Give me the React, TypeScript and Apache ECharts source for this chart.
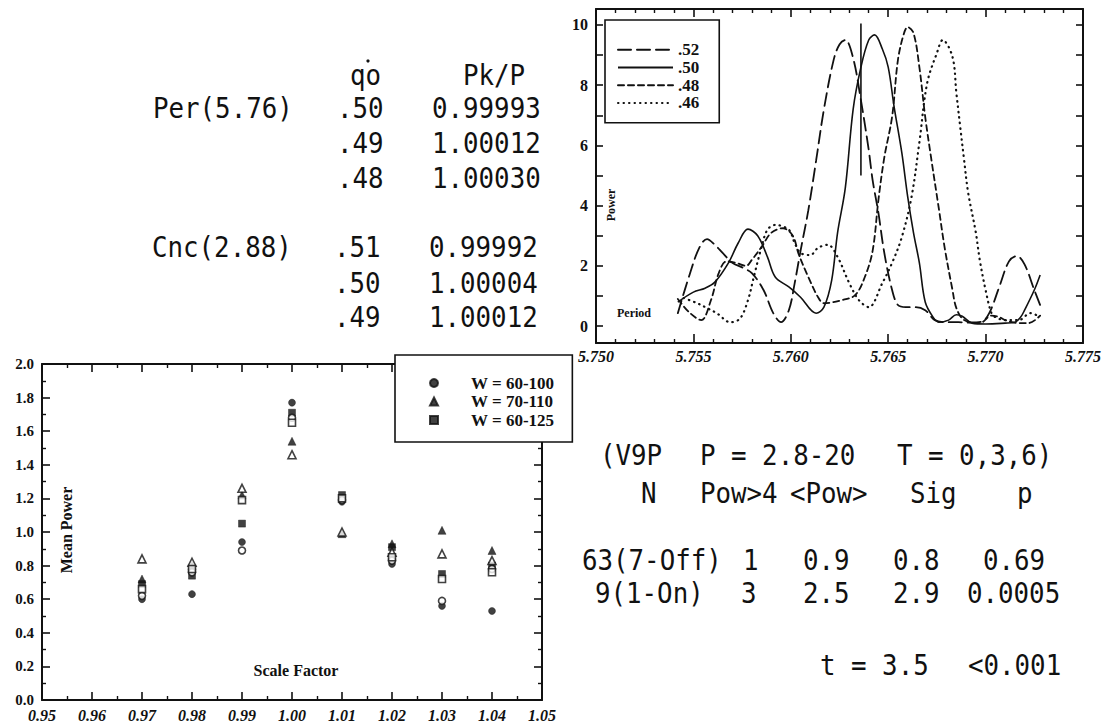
import React, { useEffect, useRef } from "react";
import * as echarts from "echarts";

// ---------- Data: periodogram (top right) ----------
const curve52: [number, number][] = [
  [5.7542, 0.43], [5.7548, 1.7], [5.7553, 2.6], [5.7557, 2.89], [5.7561, 2.7], [5.7565, 2.43],
  [5.757, 2.1], [5.7575, 1.95], [5.758, 1.76], [5.7586, 1.2], [5.7591, 0.43], [5.7595, 0.13],
  [5.7599, 0.53], [5.7602, 1.43], [5.7605, 2.5], [5.7609, 3.85], [5.7613, 5.5], [5.7617, 7.2],
  [5.7622, 8.84], [5.7625, 9.35], [5.7628, 9.5], [5.7632, 8.9], [5.7636, 7.5], [5.764, 5.85],
  [5.7642, 4.85], [5.7645, 3.75], [5.7648, 2.43], [5.7652, 1.2], [5.7655, 0.7], [5.7659, 0.63],
  [5.7664, 0.63], [5.7669, 0.53], [5.7674, 0.2], [5.768, 0.13], [5.7686, 0.13], [5.7692, 0.12],
  [5.7698, 0.15], [5.7702, 0.45], [5.7707, 1.3], [5.7712, 2.15], [5.7716, 2.33], [5.772, 2.05],
  [5.7725, 1.2], [5.7728, 0.7],
];
const curve50: [number, number][] = [
  [5.7542, 0.8], [5.755, 1.13], [5.7556, 1.26], [5.7561, 1.46], [5.7568, 2.1], [5.7573, 2.76],
  [5.7578, 3.22], [5.7583, 3.0], [5.7588, 2.3], [5.7592, 1.63], [5.7599, 1.3], [5.7605, 0.96],
  [5.7613, 0.43], [5.7617, 0.63], [5.7621, 1.53], [5.7624, 3.1], [5.7628, 4.6], [5.7632, 7.2],
  [5.7636, 8.6], [5.764, 9.5], [5.7643, 9.67], [5.7647, 9.2], [5.765, 8.6], [5.7653, 7.3],
  [5.7657, 5.75], [5.766, 4.3], [5.7663, 3.1], [5.7666, 2.1], [5.7669, 0.8], [5.7673, 0.3],
  [5.7676, 0.13], [5.7681, 0.2], [5.7685, 0.38], [5.7688, 0.33], [5.7693, 0.1], [5.77, 0.07],
  [5.771, 0.1], [5.7715, 0.13], [5.7718, 0.3], [5.772, 0.53], [5.7725, 1.2], [5.7728, 1.7],
];
const curve48: [number, number][] = [
  [5.7542, 0.9], [5.7548, 0.45], [5.7554, 0.2], [5.7559, 0.86], [5.7563, 1.76], [5.7567, 2.15],
  [5.7572, 2.1], [5.7577, 2.0], [5.758, 2.2], [5.7585, 2.63], [5.759, 3.1], [5.7596, 3.25],
  [5.7601, 3.0], [5.7604, 2.4], [5.7609, 1.63], [5.7614, 0.96], [5.7617, 0.76], [5.7626, 0.86],
  [5.7633, 1.03], [5.7638, 1.63], [5.7642, 2.5], [5.7645, 4.2], [5.7648, 5.6], [5.7652, 6.95],
  [5.7655, 8.84], [5.7658, 9.7], [5.766, 9.93], [5.7663, 9.73], [5.7666, 8.6], [5.7669, 6.95],
  [5.7672, 5.6], [5.7676, 3.9], [5.7679, 2.6], [5.7683, 1.2], [5.7685, 0.6], [5.7689, 0.2],
  [5.7697, 0.1], [5.7703, 0.35], [5.7707, 0.3], [5.771, 0.2], [5.7717, 0.1], [5.7722, 0.1],
  [5.7728, 0.35],
];
const curve46: [number, number][] = [
  [5.7545, 0.93], [5.7552, 0.76], [5.7557, 0.6], [5.7562, 0.43], [5.7569, 0.13], [5.7574, 0.26],
  [5.7578, 0.86], [5.7581, 1.63], [5.7585, 2.63], [5.7588, 3.2], [5.7592, 3.36], [5.7599, 3.2],
  [5.7602, 2.76], [5.7605, 2.43], [5.761, 2.36], [5.7614, 2.6], [5.7619, 2.7], [5.7624, 2.3],
  [5.763, 1.43], [5.7635, 0.86], [5.764, 0.63], [5.7647, 1.43], [5.7652, 2.1], [5.7657, 2.96],
  [5.7662, 4.3], [5.7666, 6.1], [5.767, 8.07], [5.7675, 9.07], [5.7678, 9.5], [5.7683, 8.94],
  [5.7685, 7.74], [5.7687, 6.6], [5.7689, 5.5], [5.7691, 4.45], [5.7695, 3.1], [5.7697, 2.2],
  [5.77, 1.2], [5.7703, 0.43], [5.7705, 0.3], [5.771, 0.2], [5.7717, 0.2], [5.7723, 0.43],
  [5.7728, 0.3],
];
const periodMarker: [number, number][] = [[5.7636, 5.0], [5.7636, 10.05]];
const qoLabels = [".52", ".50", ".48", ".46"];
const powerTicks = [0, 1, 2, 3, 4, 5, 6, 7, 8, 9, 10];
const powerLabels = [0, 2, 4, 6, 8, 10];

// ---------- Data: mean power vs scale factor (bottom left) ----------
const scaleFactors = [0.97, 0.98, 0.99, 1.0, 1.01, 1.02, 1.03, 1.04];
const w60_100 = [0.6, 0.63, 0.94, 1.77, 1.18, 0.81, 0.56, 0.53];
const w60_100open = [0.62, 0.76, 0.89, 1.68, 1.19, 0.83, 0.59, 0.78];
const w70_110 = [0.72, 0.8, 1.22, 1.54, 0.99, 0.93, 1.01, 0.89];
const w70_110open = [0.84, 0.82, 1.26, 1.46, 1.0, 0.88, 0.87, 0.83];
const w60_125 = [0.69, 0.74, 1.05, 1.71, 1.22, 0.91, 0.75, 0.8];
const w60_125open = [0.66, 0.78, 1.19, 1.65, 1.2, 0.85, 0.72, 0.76];
const wLabels = ["W = 60-100", "W = 70-110", "W = 60-125"];

// ---------- Text tables ----------
const pkHeader = ["qo", "Pk/P"];
const perRows = [
  ["Per(5.76)", ".50", "0.99993"],
  ["", ".49", "1.00012"],
  ["", ".48", "1.00030"],
];
const cncRows = [
  ["Cnc(2.88)", ".51", "0.99992"],
  ["", ".50", "1.00004"],
  ["", ".49", "1.00012"],
];
const v9pTitle = ["(V9P", "P = 2.8-20", "T = 0,3,6)"];
const v9pHeader = ["N", "Pow>4", "<Pow>", "Sig", "p"];
const v9pRows = [
  ["63(7-Off)", "1", "0.9", "0.8", "0.69"],
  ["9(1-On)", "3", "2.5", "2.9", "0.0005"],
];
const v9pFooter = ["t = 3.5", "<0.001"];

const SERIF = "'Liberation Serif', 'DejaVu Serif', serif";
const MONO = "'DejaVu Sans Mono', 'Liberation Mono', monospace";
const INK = "#111";

function mono(text: string, x: number, y: number) {
  return {
    type: "text",
    x,
    y,
    scaleX: 0.89,
    style: {
      text,
      fill: INK,
      fontFamily: MONO,
      fontSize: 29,
      textAlign: "left",
      textVerticalAlign: "middle",
    },
  };
}

function boxAxis(extra: any) {
  return {
    type: "value",
    splitLine: { show: false },
    minorSplitLine: { show: false },
    axisLine: { show: true, onZero: false, lineStyle: { color: INK, width: 2 } },
    axisTick: { show: true, inside: true, length: 8, lineStyle: { color: INK, width: 1.6 } },
    ...extra,
  };
}

export default function App() {
  const ref = useRef<HTMLDivElement>(null);
  useEffect(() => {
    const chart = echarts.init(ref.current!, null, { renderer: "svg" });

    const xLabelStyle = {
      color: INK,
      fontFamily: SERIF,
      fontWeight: "bold",
      fontStyle: "italic",
      fontSize: 16,
      lineHeight: 16,
    };
    const yLabelStyle = { color: INK, fontFamily: SERIF, fontWeight: "bold", fontSize: 15, lineHeight: 15 };
    const minor = (n: number) => ({
      show: true,
      splitNumber: n,
      length: 4,
      lineStyle: { color: INK, width: 1.4 },
    });

    const graphics: any[] = [];
    // top-left table
    graphics.push(mono(pkHeader[0], 350, 75));
    graphics.push({ type: "circle", shape: { cx: 368, cy: 61, r: 1.6 }, style: { fill: INK } });
    graphics.push(mono(pkHeader[1], 463, 75));
    const perY = [108, 143, 178];
    perRows.forEach((r, i) => {
      if (r[0]) graphics.push(mono(r[0], 153, perY[i]));
      graphics.push(mono(r[1], 337, perY[i]));
      graphics.push(mono(r[2], 432, perY[i]));
    });
    const cncY = [247, 283, 317];
    cncRows.forEach((r, i) => {
      if (r[0]) graphics.push(mono(r[0], 152, cncY[i]));
      graphics.push(mono(r[1], 334, cncY[i]));
      graphics.push(mono(r[2], 429, cncY[i]));
    });
    // right table
    const titleX = [600, 700, 897];
    v9pTitle.forEach((t, i) => graphics.push(mono(t, titleX[i], 455)));
    const headX = [641, 700, 790, 910, 1017];
    v9pHeader.forEach((t, i) => graphics.push(mono(t, headX[i], 493)));
    const rowX = [
      [582, 743, 803, 893, 983],
      [595, 741, 803, 893, 967],
    ];
    const rowY = [560, 593];
    v9pRows.forEach((r, j) => r.forEach((t, i) => graphics.push(mono(t, rowX[j][i], rowY[j]))));
    graphics.push(mono(v9pFooter[0], 820, 665));
    graphics.push(mono(v9pFooter[1], 968, 665));
    // axis titles
    graphics.push({
      type: "text",
      x: 66,
      y: 530,
      rotation: Math.PI / 2,
      style: {
        text: "Mean Power",
        fill: INK,
        fontFamily: SERIF,
        fontWeight: "bold",
        fontSize: 16,
        textAlign: "center",
        textVerticalAlign: "middle",
      },
    });
    graphics.push({
      type: "text",
      x: 296,
      y: 670,
      style: {
        text: "Scale Factor",
        fill: INK,
        fontFamily: SERIF,
        fontWeight: "bold",
        fontSize: 16,
        textAlign: "center",
        textVerticalAlign: "middle",
      },
    });
    graphics.push({
      type: "text",
      x: 611,
      y: 205,
      rotation: Math.PI / 2,
      style: {
        text: "Power",
        fill: INK,
        fontFamily: SERIF,
        fontWeight: "bold",
        fontSize: 12,
        textAlign: "center",
        textVerticalAlign: "middle",
      },
    });
    graphics.push({
      type: "text",
      x: 617,
      y: 313,
      style: {
        text: "Period",
        fill: INK,
        fontFamily: SERIF,
        fontWeight: "bold",
        fontSize: 12,
        textAlign: "left",
        textVerticalAlign: "middle",
      },
    });

    const lineBase = (name: string, data: [number, number][], type: any, width: number) => ({
      name,
      type: "line",
      xAxisIndex: 0,
      yAxisIndex: 0,
      data,
      symbol: "none",
      smooth: 0.35,
      itemStyle: { color: INK },
      lineStyle: { color: INK, width, type, cap: type === "solid" ? "butt" : "round" },
      z: 3,
    });

    const scatter = (name: string, data: number[], symbol: string, open: boolean) => ({
      name,
      type: "scatter",
      xAxisIndex: 2,
      yAxisIndex: 2,
      symbol,
      symbolSize: symbol === "triangle" ? 8 : 7,
      data: scaleFactors.map((x, i) => [x, data[i]]),
      itemStyle: open
        ? { color: "#fff", borderColor: INK, borderWidth: 1.6 }
        : { color: INK, borderColor: INK, borderWidth: 0.5 },
      z: open ? 4 : 3,
    });

    const option: any = {
      animation: false,
      backgroundColor: "#fff",
      grid: [
        { left: 596, right: 28, top: 9, bottom: 381 },
        { left: 42, right: 569, top: 364, bottom: 24 },
      ],
      xAxis: [
        boxAxis({
          gridIndex: 0,
          position: "bottom",
          min: 5.75,
          max: 5.775,
          interval: 0.005,
          axisTick: { show: true, inside: true, length: 9, lineStyle: { color: INK, width: 1.6 } },
          minorTick: minor(5),
          axisLabel: { ...xLabelStyle, margin: 5, formatter: (v: number) => v.toFixed(3) },
        }),
        boxAxis({
          gridIndex: 0,
          position: "top",
          min: 5.75,
          max: 5.775,
          interval: 0.005,
          minorTick: minor(5),
          axisLabel: { show: false },
        }),
        boxAxis({
          gridIndex: 1,
          position: "bottom",
          min: 0.95,
          max: 1.05,
          interval: 0.01,
          minorTick: minor(2),
          axisLabel: { ...xLabelStyle, margin: 7, formatter: (v: number) => v.toFixed(2) },
        }),
        boxAxis({
          gridIndex: 1,
          position: "top",
          min: 0.95,
          max: 1.05,
          interval: 0.01,
          minorTick: minor(2),
          axisLabel: { show: false },
        }),
      ],
      yAxis: [
        boxAxis({
          gridIndex: 0,
          position: "left",
          min: -0.56,
          max: 10.53,
          axisTick: {
            show: true,
            inside: true,
            length: 7,
            customValues: powerTicks,
            lineStyle: { color: INK, width: 1.6 },
          },
          axisLabel: { ...yLabelStyle, fontSize: 16, margin: 8, customValues: powerLabels },
        }),
        boxAxis({
          gridIndex: 0,
          position: "right",
          min: -0.56,
          max: 10.53,
          axisTick: {
            show: true,
            inside: true,
            length: 7,
            customValues: powerTicks,
            lineStyle: { color: INK, width: 1.6 },
          },
          axisLabel: { show: false },
        }),
        boxAxis({
          gridIndex: 1,
          position: "left",
          min: 0,
          max: 2,
          interval: 0.2,
          minorTick: minor(2),
          axisLabel: { ...yLabelStyle, margin: 8, formatter: (v: number) => v.toFixed(1) },
        }),
        boxAxis({
          gridIndex: 1,
          position: "right",
          min: 0,
          max: 2,
          interval: 0.2,
          minorTick: minor(2),
          axisLabel: { show: false },
        }),
      ],
      legend: [
        {
          data: qoLabels,
          left: 605,
          top: 20,
          orient: "vertical",
          itemWidth: 55,
          itemHeight: 10,
          itemGap: 0,
          padding: [21, 20, 11, 12],
          borderColor: INK,
          borderWidth: 1.6,
          backgroundColor: "#fff",
          selectedMode: false,
          itemStyle: { opacity: 0 },
          textStyle: {
            color: INK,
            fontFamily: SERIF,
            fontWeight: "bold",
            fontSize: 17,
            lineHeight: 17.7,
          },
        },
        {
          data: wLabels,
          left: 395,
          top: 355,
          orient: "vertical",
          itemWidth: 8,
          itemHeight: 8,
          itemGap: 0.5,
          padding: [19, 18, 13, 34],
          borderColor: INK,
          borderWidth: 1.6,
          backgroundColor: "#fff",
          selectedMode: false,
          textStyle: {
            color: INK,
            fontFamily: SERIF,
            fontWeight: "bold",
            fontSize: 17,
            lineHeight: 18,
            padding: [0, 0, 0, 28],
          },
        },
      ],
      series: [
        lineBase(qoLabels[0], curve52, [13, 6], 1.8),
        lineBase(qoLabels[1], curve50, "solid", 1.6),
        lineBase(qoLabels[2], curve48, [6, 4], 1.8),
        lineBase(qoLabels[3], curve46, [0.5, 5], 2.2),
        {
          name: "period marker",
          type: "line",
          xAxisIndex: 0,
          yAxisIndex: 0,
          data: periodMarker,
          symbol: "none",
          lineStyle: { color: INK, width: 1.6 },
          z: 3,
        },
        scatter(wLabels[0], w60_100, "circle", false),
        scatter(wLabels[0] + " (open)", w60_100open, "circle", true),
        scatter(wLabels[1], w70_110, "triangle", false),
        scatter(wLabels[1] + " (open)", w70_110open, "triangle", true),
        scatter(wLabels[2], w60_125, "rect", false),
        scatter(wLabels[2] + " (open)", w60_125open, "rect", true),
      ],
      graphic: graphics,
    };

    chart.setOption(option);
    return () => chart.dispose();
  }, []);

  return (
    <div
      ref={ref}
      style={{ position: "fixed", left: 0, top: 0, width: 1111, height: 724, background: "#fff" }}
    />
  );
}
